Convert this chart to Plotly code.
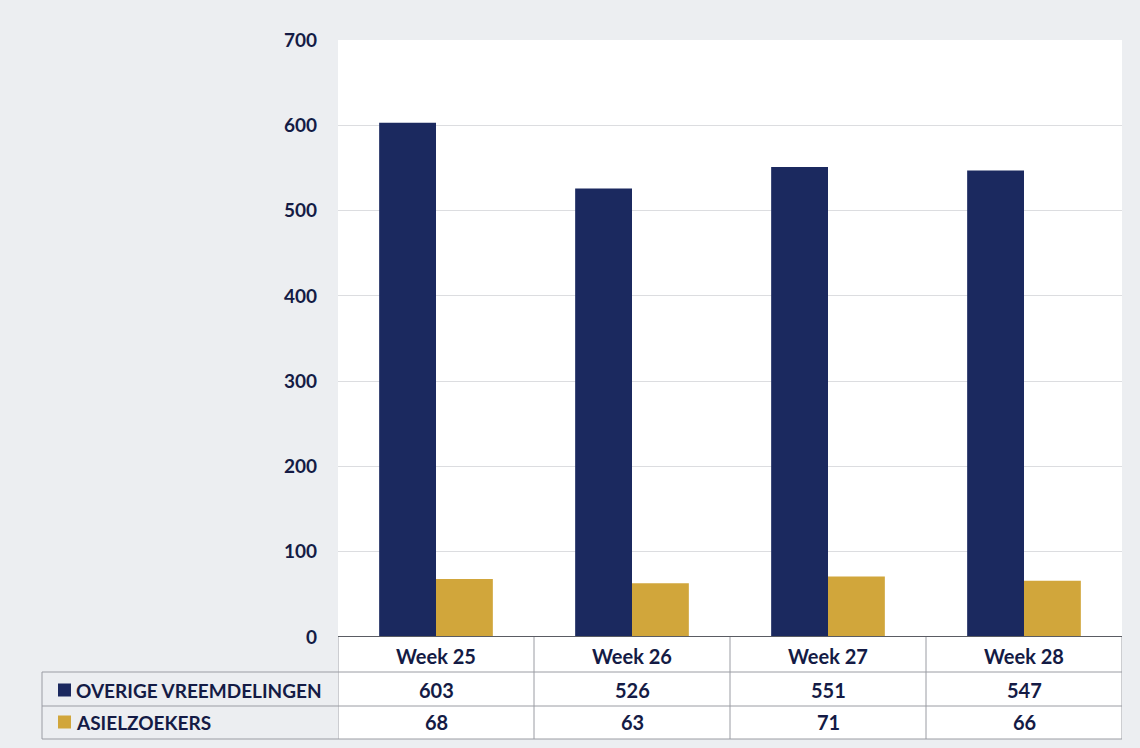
import plotly.graph_objects as go

categories = ["Week 25", "Week 26", "Week 27", "Week 28"]
overige = [603, 526, 551, 547]
asiel = [68, 63, 71, 66]
series_names = ["OVERIGE VREEMDELINGEN", "ASIELZOEKERS"]
y_ticks = [0, 100, 200, 300, 400, 500, 600, 700]

NAVY = "#1b295f"
GOLD = "#d1a63b"
TXT = "#141b45"
FONT = "Lato"

W, H = 1140, 748
def py(p):  # pixel y -> paper
    return 1 - p / H

fig = go.Figure()
fig.add_trace(go.Bar(x=categories, y=overige, name=series_names[0], marker=dict(color=NAVY, line=dict(width=0))))
fig.add_trace(go.Bar(x=categories, y=asiel, name=series_names[1], marker=dict(color=GOLD, line=dict(width=0))))

shapes = []
annotations = []
line_col = "#9a9ca3"
shapes.append(dict(type="rect", xref="x", yref="paper", x0=-0.5, x1=3.5, y0=py(739), y1=py(637),
                   fillcolor="white", line=dict(width=0), layer="below"))
for yp in [672, 706, 739]:
    shapes.append(dict(type="line", xref="paper", yref="paper", x0=42 / W, x1=1122 / W, y0=py(yp), y1=py(yp),
                       line=dict(color=line_col, width=1)))
shapes.append(dict(type="line", xref="paper", yref="paper", x0=42 / W, x1=42 / W, y0=py(672), y1=py(739),
                   line=dict(color=line_col, width=1)))
for i in range(len(categories) + 1):
    shapes.append(dict(type="line", xref="x", yref="paper", x0=i - 0.5, x1=i - 0.5, y0=py(637), y1=py(739),
                       line=dict(color=line_col, width=1)))
shapes.append(dict(type="line", xref="x", yref="y", x0=-0.5, x1=3.5, y0=0, y1=0,
                   line=dict(color="#5a5c63", width=2)))

tfont = dict(family=FONT, size=20, color=TXT, weight="bold")
lfont = dict(family=FONT, size=19, color=TXT, weight="bold")
for i, c in enumerate(categories):
    annotations.append(dict(x=c, xref="x", y=py(656), yref="paper", yanchor="middle", text=c, showarrow=False, font=tfont))
    annotations.append(dict(x=c, xref="x", y=py(690), yref="paper", yanchor="middle", text=str(overige[i]), showarrow=False, font=tfont))
    annotations.append(dict(x=c, xref="x", y=py(722), yref="paper", yanchor="middle", text=str(asiel[i]), showarrow=False, font=tfont))

for name, col, yp in [(series_names[0], NAVY, 690), (series_names[1], GOLD, 722)]:
    shapes.append(dict(type="rect", xref="paper", yref="paper", x0=58 / W, x1=71 / W,
                       y0=py(yp + 6.5), y1=py(yp - 6.5), fillcolor=col, line=dict(width=0)))
    annotations.append(dict(x=74 / W, xref="paper", y=py(yp), yref="paper", xanchor="left", yanchor="middle",
                            text=name, showarrow=False, font=lfont))

fig.update_layout(
    width=W, height=H,
    margin=dict(l=0, r=0, t=0, b=0),
    paper_bgcolor="#eceef1",
    plot_bgcolor="white",
    barmode="group",
    bargap=0.42,
    bargroupgap=0,
    showlegend=False,
    xaxis=dict(domain=[338 / W, 1122 / W], showticklabels=False, showgrid=False, zeroline=False,
               range=[-0.5, 3.5], automargin=False),
    yaxis=dict(domain=[py(637), py(40)], range=[0, 700], tickvals=y_ticks, showgrid=True,
               gridcolor="#dcdde0", gridwidth=1, zeroline=False, automargin=False,
               tickfont=dict(family=FONT, size=19, color=TXT, weight="bold"),
               ticklabelstandoff=20),
    shapes=shapes,
    annotations=annotations,
)

fig.write_html("out.html", config={"displayModeBar": False},
               post_script="document.body.style.margin='0';document.body.style.padding='0';")
